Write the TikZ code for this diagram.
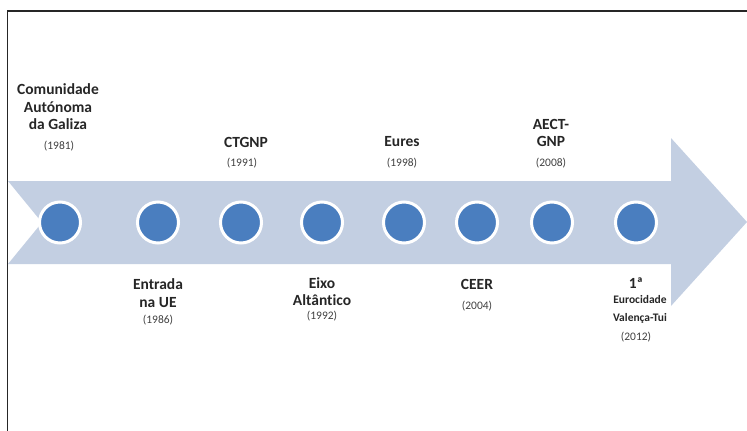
\documentclass[tikz,border=0pt]{standalone}
\usepackage{fontspec}
\setmainfont{Carlito}[Ligatures=NoCommon]
\definecolor{arrowfill}{HTML}{C3CFE2}
\definecolor{dotblue}{HTML}{4A7EBF}
\begin{document}
\begin{tikzpicture}[x=1pt,y=-1pt,
  dot/.style={circle,fill=dotblue,draw=white,line width=3pt,minimum size=41pt,inner sep=0pt},
  ttl/.style={align=center,font=\fontsize{15.5}{17.5}\selectfont\bfseries,text=black!85,inner sep=0pt},
  smallttl/.style={align=center,font=\fontsize{11.5}{18}\selectfont\bfseries,text=black!85,inner sep=0pt},
  yr/.style={font=\fontsize{11.5}{12}\selectfont,text=black!75,inner sep=0pt}]
\useasboundingbox (0,0) rectangle (747,431);
% frame
\draw[line width=1.6pt,black!85] (7.5,431) -- (7.5,11) -- (747,11);
% arrow
\fill[arrowfill] (8,181) -- (671,181) -- (671,138) -- (747,222) -- (671,306) -- (671,264) -- (8,264) -- (42,222.5) -- cycle;
% dots
\node[dot] (d1) at (60,222.5) {};
\node[dot] (d2) at (158,222.5) {};
\node[dot] (d3) at (241,222.5) {};
\node[dot] (d4) at (322,222.5) {};
\node[dot] (d5) at (404,222.5) {};
\node[dot] (d6) at (477,222.5) {};
\node[dot] (d7) at (552,222.5) {};
\node[dot] (d8) at (636,222.5) {};
% labels above
\node[ttl] (t1) at (58,107) {Comunidade\\Autónoma\\da Galiza};
\node[yr] (y1) at (59,146) {(1981)};
\node[ttl] (t3) at (246,142) {CTGNP};
\node[yr] (y3) at (242,163) {(1991)};
\node[ttl] (t5) at (402,142) {Eures};
\node[yr] (y5) at (402,163) {(1998)};
\node[ttl] (t7) at (551,133) {AECT-\\GNP};
\node[yr] (y7) at (551,163) {(2008)};
% labels below
\node[ttl] (t2) at (158,293) {Entrada\\na UE};
\node[yr] (y2) at (158,320) {(1986)};
\node[ttl] (t4) at (322,291.5) {Eixo\\Altântico};
\node[yr] (y4) at (322,316) {(1992)};
\node[ttl] (t6) at (477,284) {CEER};
\node[yr] (y6) at (477,306) {(2004)};
\node[ttl] (t8a) at (636,283) {1ª};
\node[smallttl] (t8) at (640,309) {Eurocidade\\Valença-Tui};
\node[yr] (y8) at (636,337) {(2012)};
\end{tikzpicture}
\end{document}
